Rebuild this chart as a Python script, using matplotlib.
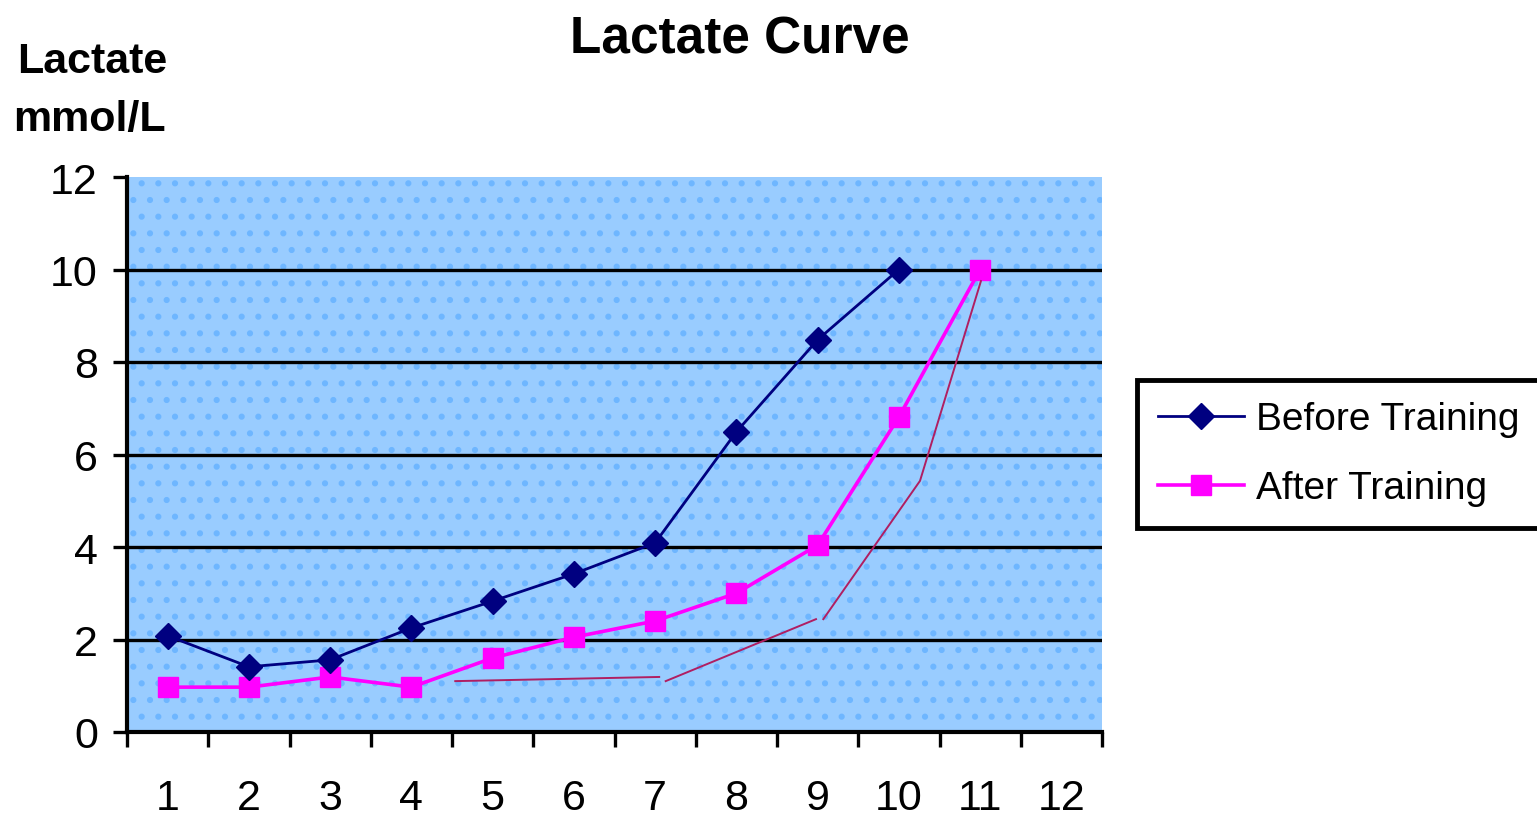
import numpy as np
import matplotlib
matplotlib.use("Agg")
import matplotlib.pyplot as plt
from matplotlib.patches import Rectangle

plt.rcParams['font.family'] = ['Liberation Sans', 'DejaVu Sans']
plt.rcParams['hatch.linewidth'] = 2.0

# data
stages = [1, 2, 3, 4, 5, 6, 7, 8, 9, 10, 11, 12]
before_x = [1, 2, 3, 4, 5, 6, 7, 8, 9, 10]
before = [2.08, 1.41, 1.56, 2.25, 2.83, 3.42, 4.09, 6.49, 8.48, 10.0]
after_x = [1, 2, 3, 4, 5, 6, 7, 8, 9, 10, 11]
after = [0.97, 0.97, 1.19, 0.97, 1.6, 2.05, 2.4, 3.0, 4.04, 6.81, 10.0]

# hand drawn line overlay (three pieces)
sketch_a_x = [4.54, 7.05]
sketch_a_y = [1.10, 1.19]
sketch_b_x = [7.13, 8.98]
sketch_b_y = [1.10, 2.44]
sketch_c_x = [9.07, 10.26, 11.01]
sketch_c_y = [2.44, 5.43, 9.75]

yticks = [0, 2, 4, 6, 8, 10, 12]

fig = plt.figure(figsize=(15.37, 8.2), dpi=100)
ax = fig.add_axes([127/1537, 1-733/820, (1102-127)/1537, (733-178)/820])

# dotted blue plot area
ax.set_facecolor('#99CCFF')
ax.add_patch(Rectangle((0, 0), 1, 1, transform=ax.transAxes, facecolor='none',
                       edgecolor='#6EB6FF', hatch='.', linewidth=0, zorder=0))

for y in [2, 4, 6, 8, 10]:
    ax.axhline(y, color='black', linewidth=2.4, zorder=1)

ax.plot(before_x, before, color='#000080', linewidth=2.0, marker='D',
        markersize=13, label='Before Training', zorder=4)
ax.plot(after_x, after, color='#FF00FF', linewidth=2.6, marker='s',
        markersize=14, label='After Training', zorder=3)

for sx, sy in [(sketch_a_x, sketch_a_y), (sketch_b_x, sketch_b_y), (sketch_c_x, sketch_c_y)]:
    ax.plot(sx, sy, color='#B01E62', linewidth=1.4, zorder=5)

ax.set_xlim(0.5, 12.5)
ax.set_ylim(0, 12)
ax.set_yticks(yticks)
ax.set_yticklabels([str(v) for v in yticks], fontsize=31)
ax.set_xticks(np.arange(0.5, 13, 1))
ax.set_xticklabels([])
ax.set_xticks(stages, minor=True)
ax.set_xticklabels([str(s) for s in stages], minor=True, fontsize=31)
ax.tick_params(axis='x', which='major', direction='out', length=11, width=2.4)
ax.tick_params(axis='x', which='minor', length=0, pad=33)
ax.tick_params(axis='y', direction='out', length=10, width=2.4, pad=11)

for side in ['top', 'right']:
    ax.spines[side].set_visible(False)
for side in ['left', 'bottom']:
    ax.spines[side].set_linewidth(3)

fig.text(740/1537, 1-53/820, 'Lactate Curve', ha='center', va='baseline',
         fontsize=37, fontweight='bold')
fig.text(17/1537, 1-73/820, 'Lactate', ha='left', va='baseline',
         fontsize=31, fontweight='bold')
fig.text(13/1537, 1-131/820, 'mmol/L', ha='left', va='baseline',
         fontsize=31, fontweight='bold')

leg = fig.legend(loc='upper left', bbox_to_anchor=(1137/1537, 1-381/820),
                 borderaxespad=0, fontsize=28, fancybox=False, framealpha=1,
                 edgecolor='black', handlelength=2.2, handletextpad=0.3,
                 borderpad=0.55, labelspacing=0.85)
leg.get_frame().set_linewidth(3.5)

fig.savefig('out.png', dpi=100)
